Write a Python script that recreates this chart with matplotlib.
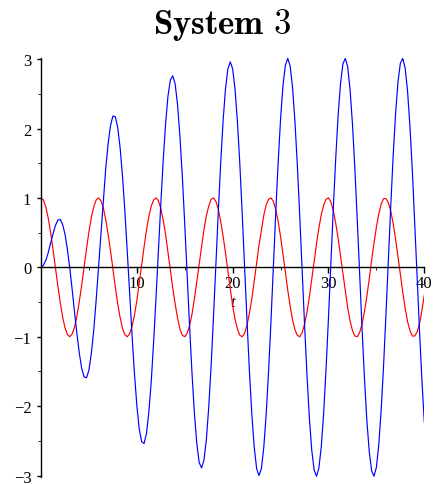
import matplotlib
matplotlib.use("Agg")
import matplotlib.pyplot as plt
from matplotlib.ticker import MultipleLocator

plt.rcParams['mathtext.fontset'] = 'cm'
plt.rcParams['font.family'] = ['Liberation Serif', 'DejaVu Serif']

# sample times
t = [
    0.0, 0.25, 0.5, 0.75, 1.0, 1.25, 1.5, 1.75, 2.0, 2.25, 2.5, 2.75,
    3.0, 3.25, 3.5, 3.75, 4.0, 4.25, 4.5, 4.75, 5.0, 5.25, 5.5, 5.75,
    6.0, 6.25, 6.5, 6.75, 7.0, 7.25, 7.5, 7.75, 8.0, 8.25, 8.5, 8.75,
    9.0, 9.25, 9.5, 9.75, 10.0, 10.25, 10.5, 10.75, 11.0, 11.25, 11.5, 11.75,
    12.0, 12.25, 12.5, 12.75, 13.0, 13.25, 13.5, 13.75, 14.0, 14.25, 14.5, 14.75,
    15.0, 15.25, 15.5, 15.75, 16.0, 16.25, 16.5, 16.75, 17.0, 17.25, 17.5, 17.75,
    18.0, 18.25, 18.5, 18.75, 19.0, 19.25, 19.5, 19.75, 20.0, 20.25, 20.5, 20.75,
    21.0, 21.25, 21.5, 21.75, 22.0, 22.25, 22.5, 22.75, 23.0, 23.25, 23.5, 23.75,
    24.0, 24.25, 24.5, 24.75, 25.0, 25.25, 25.5, 25.75, 26.0, 26.25, 26.5, 26.75,
    27.0, 27.25, 27.5, 27.75, 28.0, 28.25, 28.5, 28.75, 29.0, 29.25, 29.5, 29.75,
    30.0, 30.25, 30.5, 30.75, 31.0, 31.25, 31.5, 31.75, 32.0, 32.25, 32.5, 32.75,
    33.0, 33.25, 33.5, 33.75, 34.0, 34.25, 34.5, 34.75, 35.0, 35.25, 35.5, 35.75,
    36.0, 36.25, 36.5, 36.75, 37.0, 37.25, 37.5, 37.75, 38.0, 38.25, 38.5, 38.75,
    39.0, 39.25, 39.5, 39.75, 40.0,
]

# red curve (forcing)
red = [
    1.00, 0.97, 0.87, 0.71, 0.50, 0.26, 0.00, -0.26, -0.50, -0.71, -0.87, -0.97,
    -1.00, -0.96, -0.86, -0.70, -0.49, -0.25, 0.01, 0.27, 0.51, 0.72, 0.87, 0.97,
    1.00, 0.96, 0.86, 0.69, 0.48, 0.24, -0.02, -0.28, -0.52, -0.72, -0.88, -0.97,
    -1.00, -0.96, -0.85, -0.69, -0.48, -0.23, 0.03, 0.29, 0.53, 0.73, 0.88, 0.97,
    1.00, 0.96, 0.85, 0.68, 0.47, 0.22, -0.04, -0.30, -0.53, -0.73, -0.89, -0.98,
    -1.00, -0.95, -0.84, -0.68, -0.46, -0.21, 0.05, 0.30, 0.54, 0.74, 0.88, 0.98,
    1.00, 0.95, 0.84, 0.66, 0.45, 0.21, -0.05, -0.31, -0.55, -0.75, -0.89, -0.98,
    -1.00, -0.95, -0.83, -0.66, -0.45, -0.20, 0.06, 0.32, 0.54, 0.75, 0.90, 0.98,
    1.00, 0.95, 0.83, 0.66, 0.44, 0.19, -0.07, -0.33, -0.56, -0.76, -0.90, -0.98,
    -1.00, -0.94, -0.82, -0.65, -0.43, -0.18, 0.08, 0.34, 0.57, 0.76, 0.90, 0.98,
    1.00, 0.94, 0.82, 0.64, 0.42, 0.17, -0.09, -0.34, -0.58, -0.77, -0.91, -0.99,
    -1.00, -0.94, -0.82, -0.64, -0.42, -0.17, 0.10, 0.35, 0.58, 0.77, 0.91, 0.99,
    0.99, 0.93, 0.81, 0.63, 0.41, 0.16, -0.10, -0.36, -0.59, -0.78, -0.91, -0.99,
    -0.99, -0.93, -0.81, -0.62, -0.40,
]

# blue curve (response)
blue = [
    0.00, 0.03, 0.10, 0.21, 0.35, 0.48, 0.60, 0.68, 0.69, 0.62, 0.48, 0.26,
    -0.01, -0.32, -0.65, -0.96, -1.24, -1.46, -1.58, -1.59, -1.48, -1.24, -0.91, -0.48,
    0.00, 0.49, 0.98, 1.42, 1.78, 2.04, 2.18, 2.17, 2.02, 1.73, 1.32, 0.81,
    0.23, -0.38, -0.98, -1.53, -1.99, -2.33, -2.51, -2.54, -2.40, -2.09, -1.65, -1.08,
    -0.44, 0.24, 0.91, 1.54, 2.07, 2.47, 2.70, 2.76, 2.64, 2.34, 1.88, 1.30,
    0.62, -0.11, -0.84, -1.51, -2.09, -2.53, -2.81, -2.89, -2.78, -2.49, -2.02, -1.42,
    -0.71, 0.04, 0.80, 1.50, 2.11, 2.57, 2.86, 2.96, 2.86, 2.56, 2.09, 1.48,
    0.76, -0.01, -0.78, -1.50, -2.12, -2.59, -2.90, -3.00, -2.90, -2.59, -2.11, -1.49,
    -0.77, 0.01, 0.80, 1.52, 2.14, 2.62, 2.91, 3.01, 2.90, 2.59, 2.10, 1.47,
    0.74, -0.04, -0.82, -1.54, -2.16, -2.63, -2.92, -3.01, -2.89, -2.58, -2.09, -1.45,
    -0.72, 0.07, 0.84, 1.56, 2.18, 2.64, 2.93, 3.01, 2.89, 2.56, 2.07, 1.43,
    0.69, -0.09, -0.87, -1.59, -2.20, -2.65, -2.93, -3.01, -2.88, -2.55, -2.05, -1.41,
    -0.67, 0.12, 0.89, 1.61, 2.21, 2.67, 2.94, 3.01, 2.87, 2.54, 2.03, 1.39,
    0.64, -0.14, -0.92, -1.63, -2.23,
]

x_ticks = [10, 20, 30, 40]
y_ticks = [-3, -2, -1, 0, 1, 2, 3]

fig = plt.figure(figsize=(4.42, 4.85), dpi=100)
ax = fig.add_axes([0.0928, 0.0146, 0.8672, 0.8643])

ax.plot(t, red, color='#ff0000', lw=0.85, solid_joinstyle='round')
ax.plot(t, blue, color='#0000ff', lw=0.85, solid_joinstyle='round')

ax.set_xlim(0, 40)
ax.set_ylim(-3.02, 3.02)

# maple-style axes through the origin
ax.spines['top'].set_visible(False)
ax.spines['right'].set_visible(False)
ax.spines['bottom'].set_position(('data', 0))
for s in ('left', 'bottom'):
    ax.spines[s].set_linewidth(1.0)

ax.set_xticks(x_ticks)
ax.set_yticks(y_ticks)
ax.xaxis.set_minor_locator(MultipleLocator(5))
ax.yaxis.set_minor_locator(MultipleLocator(0.5))
ax.tick_params(axis='both', which='major', labelsize=12, width=1.0)
ax.tick_params(axis='x', which='major', length=4, pad=1.5)
ax.tick_params(axis='x', which='minor', length=2)
ax.tick_params(axis='y', which='major', length=3, pad=4)
ax.tick_params(axis='y', which='minor', length=2)

ax.set_xlabel('t', fontstyle='italic', fontsize=12, va='center')
ax.xaxis.set_label_coords(0.5, 0.418)

fig.text(0.502, 1 - 34 / 485, r'$\mathbf{System\ 3}$', ha='center',
         va='baseline', fontsize=25)

fig.savefig('out.png', dpi=100)
